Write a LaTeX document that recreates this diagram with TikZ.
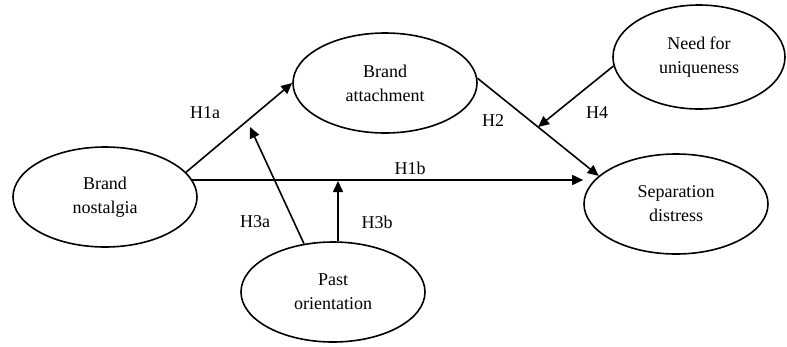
\documentclass[tikz,border=0pt]{standalone}
\usepackage{fontspec}
\setmainfont{Liberation Serif}
\usetikzlibrary{shapes.geometric,arrows.meta,calc}
\begin{document}
\begin{tikzpicture}[x=1pt,y=-1pt,
    construct/.style={draw,ellipse,line width=1.6pt,minimum width=184pt,minimum height=100pt,inner sep=0pt,align=center,font=\fontsize{18}{24}\selectfont},
    hyp/.style={font=\fontsize{18}{22}\selectfont,inner sep=0pt},
    path/.style={line width=1.6pt,-{Triangle[length=11pt,width=10pt]}}]
      \useasboundingbox (0,0) rectangle (787,346);
      \node[construct] (nost) at (105,197) {Brand\\nostalgia};
      \node[construct] (att) at (385,83) {Brand\\attachment};
      \node[construct,minimum width=172pt,minimum height=104pt] (uniq) at (699,57) {Need for\\uniqueness};
      \node[construct] (sep) at (676,204) {Separation\\distress};
      \node[construct] (past) at (333,292) {Past\\orientation};
      \coordinate (h4end) at ($(att.3)!0.5!(sep.160)$);
      \coordinate (h3aend) at (250,127);
      \coordinate (h3bend) at (338,181);
      \draw[path] (nost.17) -- (att.west);
      \draw[path] (nost.11) -- (nost.11 -| sep.west);
      \draw[path] (att.3) -- (sep.160);
      \draw[path] (uniq.186) -- (h4end);
      \draw[path] (past.121) -- (h3aend);
      \draw[path] (past.north -| h3bend) -- (h3bend);
      \node[hyp] (l1a) at (205,113) {H1a};
      \node[hyp] (l1b) at (410,168) {H1b};
      \node[hyp] (l2) at (493,121) {H2};
      \node[hyp] (l4) at (597,113) {H4};
      \node[hyp] (l3a) at (255,222) {H3a};
      \node[hyp] (l3b) at (377,222) {H3b};
    \end{tikzpicture}
\end{document}
